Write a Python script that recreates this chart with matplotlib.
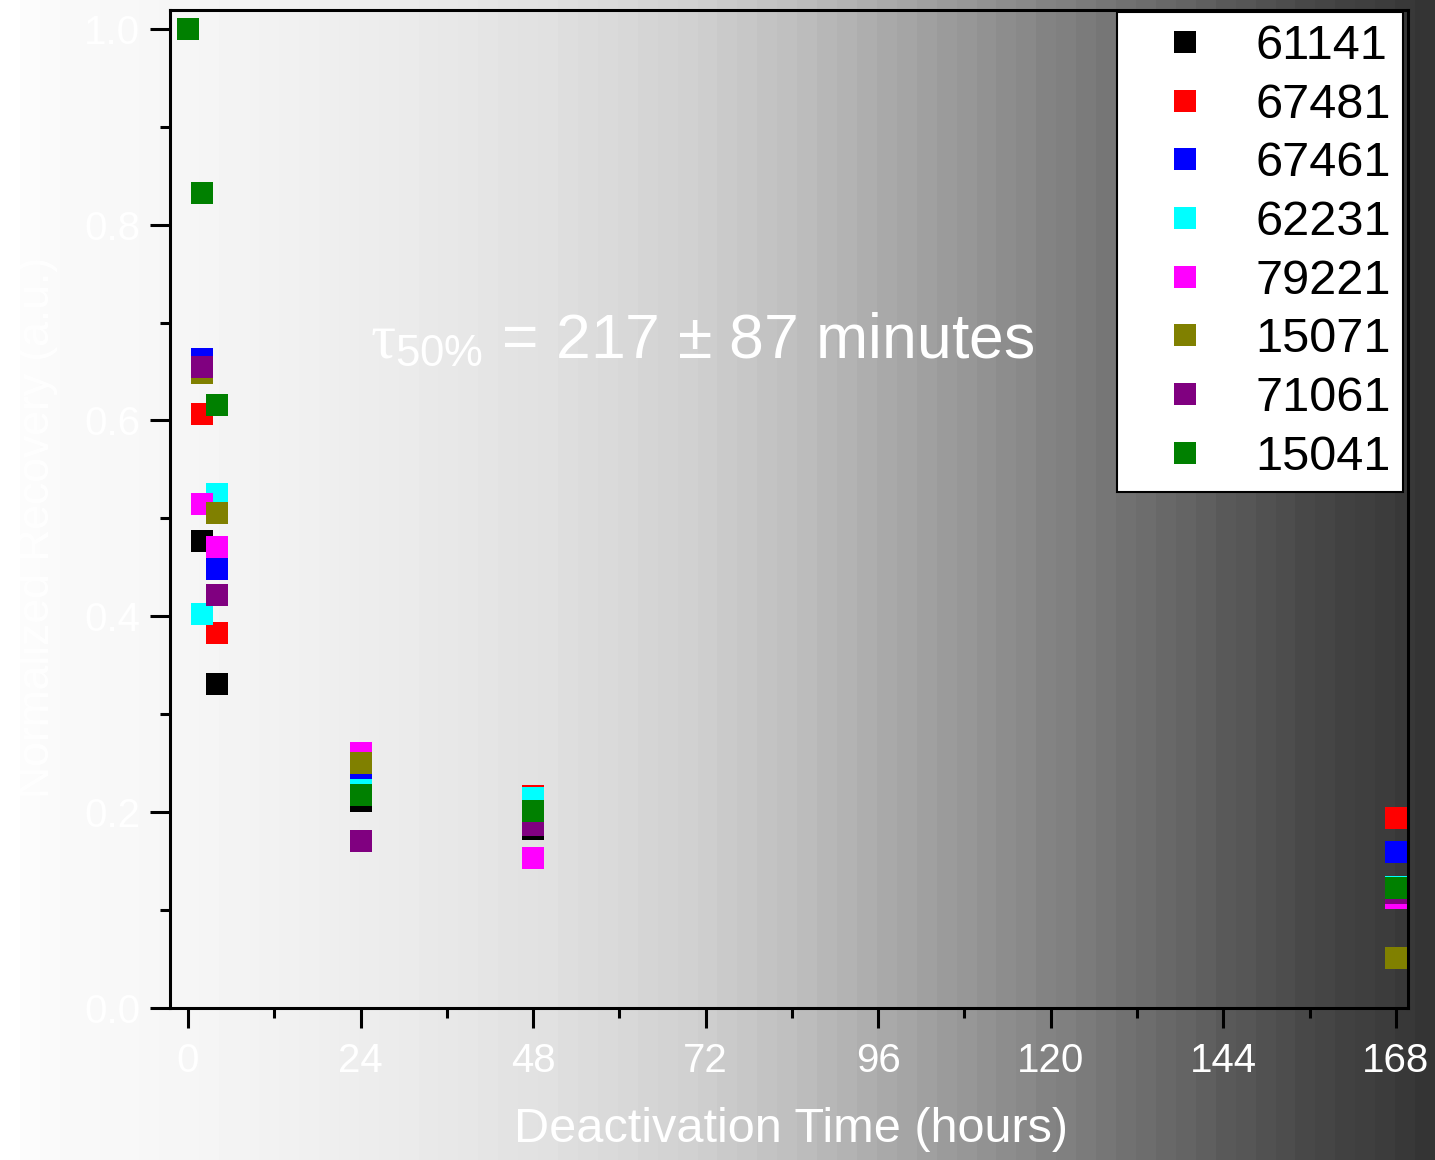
import numpy as np
import matplotlib
matplotlib.use("Agg")
import matplotlib.pyplot as plt
from matplotlib.lines import Line2D
from matplotlib.ticker import MultipleLocator

plt.rcParams['font.family'] = ['Liberation Sans', 'DejaVu Sans']
plt.rcParams['mathtext.fontset'] = 'custom'
plt.rcParams['mathtext.rm'] = 'Liberation Sans'
plt.rcParams['mathtext.it'] = 'Liberation Serif'

# deactivation times (hours)
hours = [0, 2, 4, 24, 48, 168]

samples = ["61141", "67481", "67461", "62231", "79221", "15071", "71061", "15041"]
colors = ["#000000", "#ff0000", "#0000ff", "#00ffff", "#ff00ff", "#808000", "#800080", "#008000"]

# normalized recovery per sample
rec_61141 = [1.0, 0.477, 0.331, 0.211, 0.183, 0.120]
rec_67481 = [1.0, 0.607, 0.383, 0.245, 0.217, 0.194]
rec_67461 = [1.0, 0.663, 0.448, 0.235, 0.205, 0.159]
rec_62231 = [1.0, 0.402, 0.525, 0.223, 0.214, 0.124]
rec_79221 = [1.0, 0.515, 0.471, 0.260, 0.153, 0.112]
rec_15071 = [1.0, 0.648, 0.505, 0.250, 0.200, 0.051]
rec_71061 = [1.0, 0.655, 0.422, 0.171, 0.187, 0.117]
rec_15041 = [1.0, 0.832, 0.616, 0.218, 0.201, 0.123]

recovery = [rec_61141, rec_67481, rec_67461, rec_62231,
            rec_79221, rec_15071, rec_71061, rec_15041]

fig = plt.figure(figsize=(14.35, 11.6), dpi=100)

# grey backdrop, light on the left and dark on the right
bg = fig.add_axes([0, 0, 1, 1])
bg.set_zorder(-10)
stops_x = [0.0, 0.02, 0.14, 0.28, 0.38, 0.49, 0.56, 0.63, 0.70, 0.77, 0.84, 0.91, 1.0]
stops_g = [1.0, 0.98, 0.96, 0.92, 0.88, 0.81, 0.74, 0.65, 0.56, 0.47, 0.38, 0.29, 0.21]
cols = np.linspace(0, 1, 72)
grad = np.interp(cols, stops_x, stops_g)[None, :]
bg.imshow(grad, cmap='gray', vmin=0, vmax=1, aspect='auto',
          interpolation='nearest', extent=[0, 1, 0, 1])
bg.set_axis_off()

ax = fig.add_axes([0.1185, 0.131, 0.8627, 0.8603])
ax.set_facecolor('none')

for name, c, vals in zip(samples, colors, recovery):
    ax.plot(hours, vals, ls='none', marker='s', ms=15.8, mew=0,
            color=c, label=name, clip_on=False)

ax.set_xlim(-2.5, 169.7)
ax.set_ylim(0, 1.019)
ax.xaxis.set_major_locator(MultipleLocator(24))
ax.xaxis.set_minor_locator(MultipleLocator(12))
ax.yaxis.set_major_locator(MultipleLocator(0.2))
ax.yaxis.set_minor_locator(MultipleLocator(0.1))
ax.yaxis.set_major_formatter(matplotlib.ticker.FormatStrFormatter('%.1f'))

for sp in ax.spines.values():
    sp.set_linewidth(2.2)
ax.tick_params(which='major', direction='out', length=14.5, width=2.2,
               color='black', labelcolor='white', labelsize=29, pad=7)
ax.tick_params(axis='x', which='major', pad=10)
ax.tick_params(which='minor', direction='out', length=7.5, width=2.2, color='black')

fig.text(0.551, 0.026, "Deactivation Time (hours)", color='white',
         fontsize=35, ha='center', va='center')
fig.text(0.026, 0.545, "Normalized Recovery (a.u.)", color='white',
         fontsize=32, ha='center', va='center', rotation=90)

ax.text(0.1616, 0.651, r"$\tau_{\mathrm{50\%}}$ = 217 ± 87 minutes", color='white',
        fontsize=45, transform=ax.transAxes, ha='left', va='baseline')

handles = [Line2D([], [], ls='none', marker='s', ms=15.8, mew=0, color=c)
           for c in colors]
leg = ax.legend(handles, samples, loc='upper right', bbox_to_anchor=(0.996, 0.998),
                borderaxespad=0, fontsize=35, frameon=True, fancybox=False,
                framealpha=1, edgecolor='black', borderpad=0.25,
                handlelength=2.3, handletextpad=0.3, labelspacing=0.28)
leg.get_frame().set_linewidth(1.5)

fig.savefig("out.png", dpi=100)
